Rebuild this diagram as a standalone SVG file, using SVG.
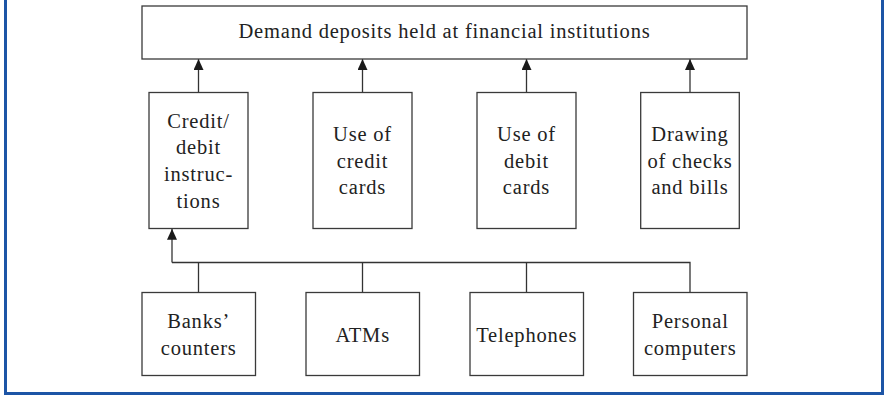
<svg xmlns="http://www.w3.org/2000/svg" width="884" height="395" viewBox="0 0 884 395" font-family="'Liberation Serif', 'DejaVu Serif', serif">
  <defs>
    <marker id="arrow" viewBox="0 0 11 10" refX="11" refY="5" markerWidth="11" markerHeight="10" markerUnits="userSpaceOnUse" orient="auto">
      <path d="M0,0 L11,5 L0,10 Z" fill="#1a1a1a"/>
    </marker>
  </defs>
  <style>
    .box { fill: #ffffff; stroke: #3a3a3a; stroke-width: 1.3; }
    .lbl { font-family: 'Liberation Serif', 'DejaVu Serif', serif; font-size: 20.5px; letter-spacing: 0.8px; fill: #222222; text-anchor: middle; }
    .wire { fill: none; stroke: #333333; stroke-width: 1.3; }
    .arr { marker-end: url(#arrow); }
    .frame { fill: none; stroke: #1d55a6; stroke-width: 3; }
  </style>

  <!-- outer frame (top edge runs off the canvas) -->
  <rect class="frame" x="5.5" y="-10" width="877" height="403.5"/>

  <!-- connectors -->
  <g id="connectors">
    <line class="wire arr" x1="198.5" y1="92.5" x2="198.5" y2="59"/>
    <line class="wire arr" x1="362.5" y1="92.5" x2="362.5" y2="59"/>
    <line class="wire arr" x1="526.5" y1="92.5" x2="526.5" y2="59"/>
    <line class="wire arr" x1="690" y1="92.5" x2="690" y2="59"/>
    <polyline class="wire" points="690,292.5 690,262.5 172,262.5"/>
    <line class="wire arr" x1="172" y1="262.5" x2="172" y2="228.8"/>
    <line class="wire" x1="198.5" y1="292.5" x2="198.5" y2="262.5"/>
    <line class="wire" x1="362.5" y1="292.5" x2="362.5" y2="262.5"/>
    <line class="wire" x1="526.5" y1="292.5" x2="526.5" y2="262.5"/>
  </g>

  <!-- top node -->
  <g id="demand-deposits">
    <rect class="box" x="142" y="6" width="605" height="53"/>
    <text class="lbl" x="444.5" y="38">Demand deposits held at financial institutions</text>
  </g>

  <!-- middle row -->
  <g id="credit-debit-instructions">
    <rect class="box" x="149" y="92.5" width="99" height="136"/>
    <text class="lbl" x="198.5" y="127.7">Credit/</text>
    <text class="lbl" x="198.5" y="154.4">debit</text>
    <text class="lbl" x="198.5" y="181.1">instruc-</text>
    <text class="lbl" x="198.5" y="207.8">tions</text>
  </g>
  <g id="use-of-credit-cards">
    <rect class="box" x="313" y="92.5" width="99" height="136"/>
    <text class="lbl" x="362.5" y="141">Use of</text>
    <text class="lbl" x="362.5" y="167.7">credit</text>
    <text class="lbl" x="362.5" y="194.4">cards</text>
  </g>
  <g id="use-of-debit-cards">
    <rect class="box" x="477" y="92.5" width="99" height="136"/>
    <text class="lbl" x="526.5" y="141">Use of</text>
    <text class="lbl" x="526.5" y="167.7">debit</text>
    <text class="lbl" x="526.5" y="194.4">cards</text>
  </g>
  <g id="drawing-checks-bills">
    <rect class="box" x="640.7" y="92.5" width="98.6" height="136"/>
    <text class="lbl" x="690" y="141">Drawing</text>
    <text class="lbl" x="690" y="167.7">of checks</text>
    <text class="lbl" x="690" y="194.4">and bills</text>
  </g>

  <!-- bottom row -->
  <g id="banks-counters">
    <rect class="box" x="142" y="292.5" width="113.5" height="83"/>
    <text class="lbl" x="198.7" y="328">Banks’</text>
    <text class="lbl" x="198.7" y="355">counters</text>
  </g>
  <g id="atms">
    <rect class="box" x="306" y="292.5" width="113.5" height="83"/>
    <text class="lbl" x="362.7" y="341.5">ATMs</text>
  </g>
  <g id="telephones">
    <rect class="box" x="470" y="292.5" width="113.5" height="83"/>
    <text class="lbl" x="526.7" y="341.5">Telephones</text>
  </g>
  <g id="personal-computers">
    <rect class="box" x="633.5" y="292.5" width="113.5" height="83"/>
    <text class="lbl" x="690.2" y="328">Personal</text>
    <text class="lbl" x="690.2" y="355">computers</text>
  </g>
</svg>
